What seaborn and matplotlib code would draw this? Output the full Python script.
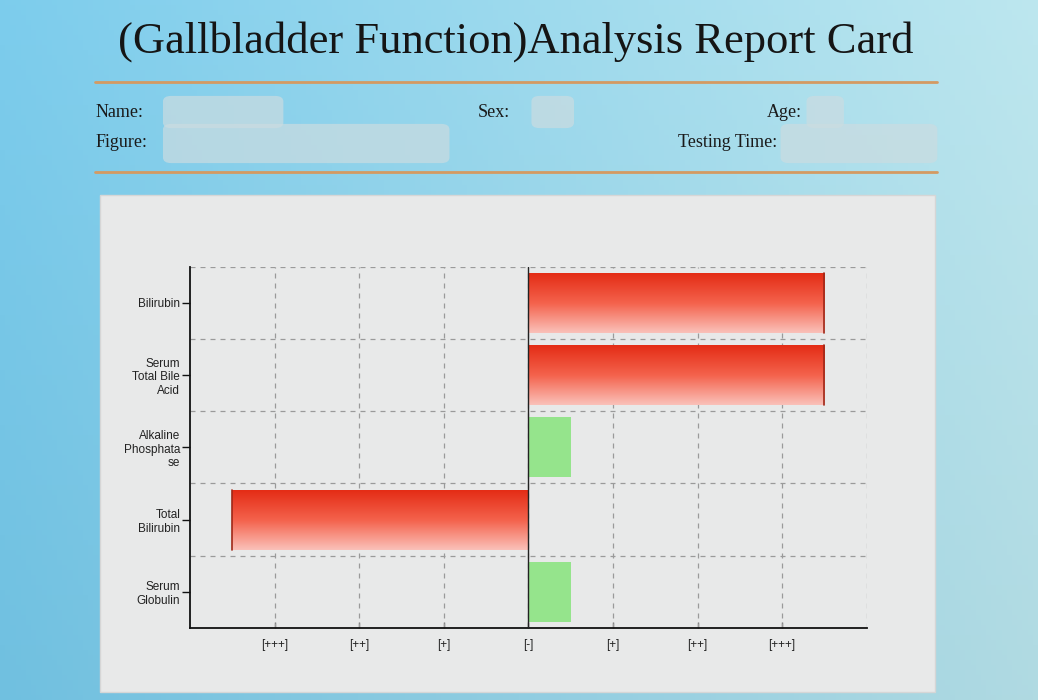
import numpy as np
import matplotlib
matplotlib.use('Agg')
import matplotlib.pyplot as plt
import seaborn as sns
from matplotlib.patches import Rectangle, FancyBboxPatch

# chart data
items = ['Bilirubin', 'Serum\nTotal Bile\nAcid', 'Alkaline\nPhosphata\nse', 'Total\nBilirubin', 'Serum\nGlobulin']
levels = [3.5, 3.5, 0.5, -3.5, 0.5]
status = ['abnormal', 'abnormal', 'normal', 'abnormal', 'normal']
tick_vals = [-3, -2, -1, 0, 1, 2, 3]
tick_labels = ['[+++]', '[++]', '[+]', '[-]', '[+]', '[++]', '[+++]']

title = '(Gallbladder Function)Analysis Report Card'

sns.set_style('white')
plt.rcParams['font.family'] = ['Liberation Sans', 'DejaVu Sans']

fig = plt.figure(figsize=(10.38, 7), dpi=100)

# photo-like blue background
bg = fig.add_axes([0, 0, 1, 1], zorder=-10)
gx = np.linspace(0, 1, 200)
gy = np.linspace(0, 1, 140)
X, Y = np.meshgrid(gx, gy)
left_c = np.array([112, 192, 224]) / 255
right_c = np.array([176, 218, 226]) / 255
img = left_c * (1 - X[..., None]) + right_c * X[..., None]
img = img + 0.05 * (1 - Y[..., None])
bg.imshow(np.clip(img, 0, 1), aspect='auto', extent=[0, 1, 0, 1])
bg.set_axis_off()

# header
fig.text(0.497, 0.941, title, ha='center', va='center', fontsize=32,
         family='Liberation Serif', color='#151515')
for yy in [0.883, 0.754]:
    fig.add_artist(plt.Line2D([0.092, 0.903], [yy, yy], color='#d49a62', lw=2))

for txt, xx, yy in [('Name:', 0.092, 0.839), ('Figure:', 0.092, 0.796),
                    ('Sex:', 0.46, 0.839), ('Age:', 0.739, 0.839),
                    ('Testing Time:', 0.653, 0.796)]:
    fig.text(xx, yy, txt, ha='left', va='center', fontsize=13,
             family='Liberation Serif', color='#1a1a1a')

# blurred-out personal details
for xx, yy, w, h in [(0.165, 0.825, 0.10, 0.03), (0.165, 0.775, 0.26, 0.04),
                     (0.52, 0.825, 0.025, 0.03), (0.785, 0.825, 0.02, 0.03),
                     (0.76, 0.775, 0.135, 0.04)]:
    fig.add_artist(FancyBboxPatch((xx, yy), w, h, boxstyle='round,pad=0.008',
                                  transform=fig.transFigure, fc='#cbdce1',
                                  ec='none', alpha=0.7))

# light grey chart panel
fig.add_artist(Rectangle((0.096, 0.011), 0.805, 0.71, transform=fig.transFigure,
                         fc='#e8e9e9', ec='#d6d6d6', lw=1, zorder=0))

ax = fig.add_axes([0.183, 0.103, 0.652, 0.516])
ax.set_facecolor('none')

sns.barplot(x=levels, y=items, hue=status, orient='h', dodge=False,
            palette={'abnormal': '#ee4a30', 'normal': '#95e48c'},
            width=0.83, legend=False, saturation=1, ax=ax, zorder=3)

# red bars get a vertical gradient like the report
top = np.array([228, 45, 22]) / 255
mid = np.array([244, 98, 76]) / 255
bot = np.array([250, 192, 184]) / 255
t = np.linspace(0, 1, 64)[:, None]
grad = np.where(t < 0.5, top + (mid - top) * (t / 0.5), mid + (bot - mid) * ((t - 0.5) / 0.5))
grad = grad[:, None, :]

for p in list(ax.patches):
    p.set_edgecolor('none')
    row = int(round(p.get_y() + p.get_height() / 2))
    if status[row] != 'abnormal':
        continue
    x0 = min(p.get_x(), p.get_x() + p.get_width())
    x1 = max(p.get_x(), p.get_x() + p.get_width())
    y0 = p.get_y()
    y1 = p.get_y() + p.get_height()
    im = ax.imshow(grad, extent=[x0, x1, y1, y0], aspect='auto', zorder=4)
    im.set_clip_path(p)
    # darker outer end of the bar
    xe = x1 if p.get_width() > 0 else x0
    ax.plot([xe, xe], [y0, y1], color='#a02818', lw=1.2, zorder=5)

ax.set_xlim(-4, 4)
ax.set_ylim(4.5, -0.5)
ax.set_xticks(tick_vals)
ax.set_xticklabels(tick_labels, fontsize=8.5)
ax.set_yticks(range(len(items)))
ax.set_yticklabels(items, fontsize=8.5, multialignment='right')
ax.set_xlabel('')
ax.set_ylabel('')

# dashed grid
for xv in tick_vals + [4]:
    ax.axvline(xv, color='#9a9a9a', ls=(0, (4, 4)), lw=0.9, zorder=1)
for yv in np.arange(-0.5, 4.0, 1.0):
    ax.axhline(yv, color='#9a9a9a', ls=(0, (4, 4)), lw=0.9, zorder=1)
ax.axvline(0, color='#222222', lw=1, zorder=6)

for s in ['top', 'right']:
    ax.spines[s].set_visible(False)
for s in ['left', 'bottom']:
    ax.spines[s].set_color('#111111')
    ax.spines[s].set_linewidth(1.3)
ax.tick_params(axis='y', left=True, direction='out', length=6, width=1,
               color='#111111', labelcolor='#222222', pad=1)
ax.tick_params(axis='x', bottom=True, direction='in', length=4, width=1,
               color='#777777', labelcolor='#222222', pad=8)

fig.savefig('out.png', dpi=100)
